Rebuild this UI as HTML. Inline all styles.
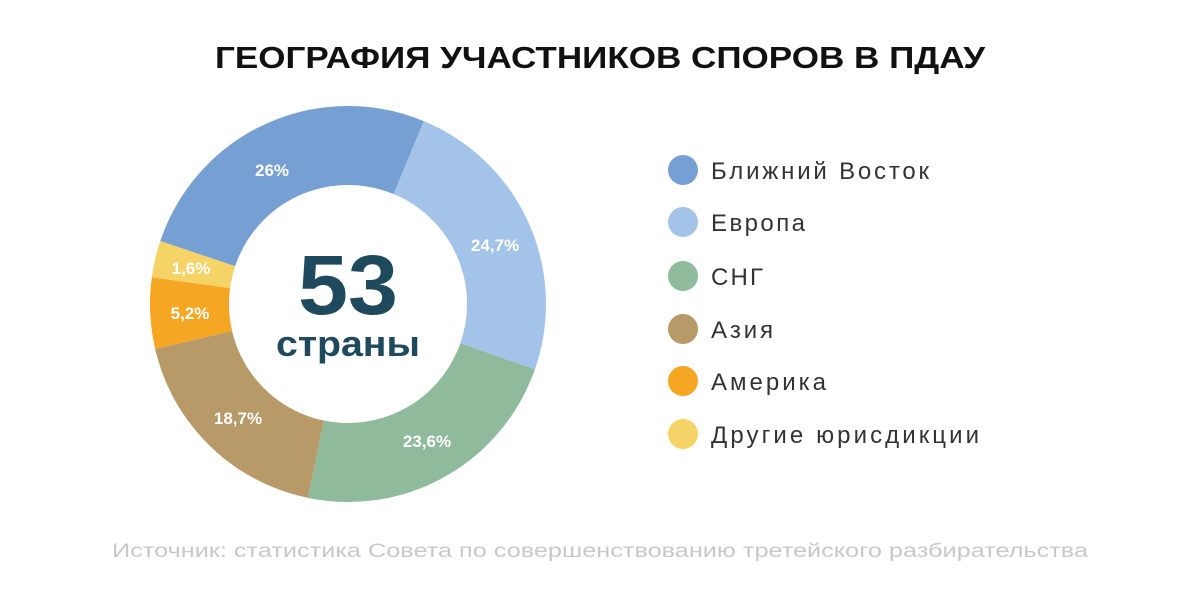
<!DOCTYPE html>
<html><head><meta charset="utf-8"><style>
body{margin:0;background:#fff;}
svg{display:block;font-family:"Liberation Sans",sans-serif;}
</style></head><body>
<svg width="1200" height="593" viewBox="0 0 1200 593">
<text x="215" y="68" textLength="770" lengthAdjust="spacingAndGlyphs" font-size="31" font-weight="bold" fill="#111">ГЕОГРАФИЯ УЧАСТНИКОВ СПОРОВ В ПДАУ</text>
<g transform="translate(348,304) rotate(-67.5)" fill="none" stroke-width="79">
<circle r="158.5" pathLength="100" stroke="#a3c3e8" stroke-dasharray="24.1 75.9" stroke-dashoffset="0"/>
<circle r="158.5" pathLength="100" stroke="#8fba9b" stroke-dasharray="22.9 77.1" stroke-dashoffset="-24.1"/>
<circle r="158.5" pathLength="100" stroke="#b89a68" stroke-dasharray="18.1 81.9" stroke-dashoffset="-47"/>
<circle r="158.5" pathLength="100" stroke="#f5a623" stroke-dasharray="5.8 94.2" stroke-dashoffset="-65.1"/>
<circle r="158.5" pathLength="100" stroke="#f5d366" stroke-dasharray="3 97" stroke-dashoffset="-70.9"/>
<circle r="158.5" pathLength="100" stroke="#769fd3" stroke-dasharray="26.1 73.9" stroke-dashoffset="-73.9"/>
</g>
<g fill="#fff" font-size="17" font-weight="bold" text-anchor="middle">
<text x="272" y="176">26%</text>
<text x="495" y="251">24,7%</text>
<text x="427" y="447">23,6%</text>
<text x="238" y="424">18,7%</text>
<text x="190" y="319">5,2%</text>
<text x="191" y="274">1,6%</text>
</g>
<text x="298" y="314" textLength="100" lengthAdjust="spacingAndGlyphs" font-size="84" font-weight="bold" fill="#1f4a5e">53</text>
<text x="276" y="356" textLength="144" lengthAdjust="spacingAndGlyphs" font-size="36" font-weight="bold" fill="#1f4a5e">страны</text>
<g font-size="24" fill="#333" lengthAdjust="spacingAndGlyphs">
<circle cx="683" cy="170" r="15" fill="#769fd3"/><text x="711" y="179" textLength="218">Ближний Восток</text>
<circle cx="683" cy="222" r="15" fill="#a3c3e8"/><text x="711" y="231" textLength="94">Европа</text>
<circle cx="683" cy="276" r="15" fill="#8fba9b"/><text x="711" y="285" textLength="52">СНГ</text>
<circle cx="683" cy="329" r="15" fill="#b89a68"/><text x="711" y="338" textLength="62">Азия</text>
<circle cx="683" cy="381" r="15" fill="#f5a623"/><text x="711" y="390" textLength="115">Америка</text>
<circle cx="683" cy="434" r="15" fill="#f5d366"/><text x="711" y="443" textLength="268">Другие юрисдикции</text>
</g>
<text x="112" y="557" textLength="976" lengthAdjust="spacingAndGlyphs" font-size="19" fill="#c8c8c8">Источник: статистика Совета по совершенствованию третейского разбирательства</text>
</svg>
</body></html>
